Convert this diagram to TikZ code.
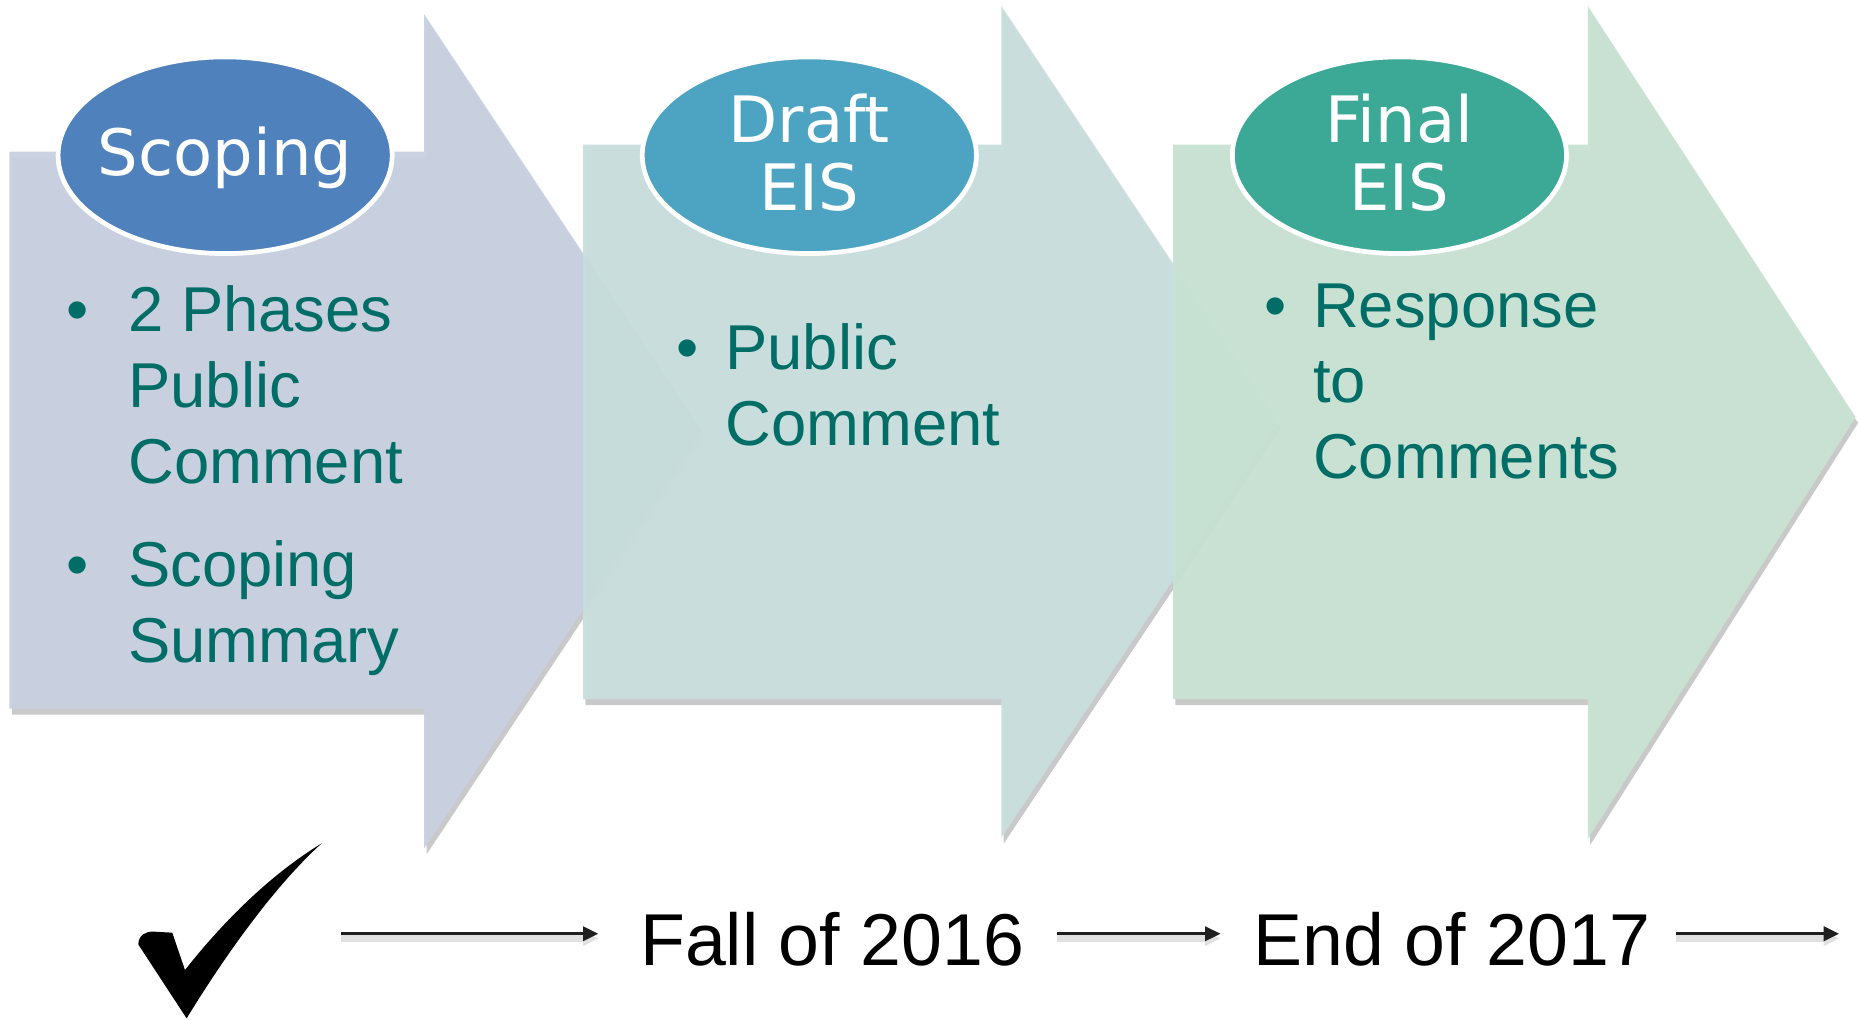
\documentclass[tikz,border=0pt]{standalone}
\usepackage{fontspec}
\setmainfont{Liberation Sans}
\newfontfamily\titlefont{DejaVu Sans}
\usetikzlibrary{arrows.meta,shadows,shapes.geometric}

\definecolor{scopegrey}{RGB}{201,209,224}
\definecolor{draftgrey}{RGB}{200,222,221}
\definecolor{finalgrey}{RGB}{200,226,212}
\definecolor{scopeblue}{RGB}{79,129,189}
\definecolor{draftblue}{RGB}{76,164,194}
\definecolor{finalteal}{RGB}{59,169,150}
\definecolor{itemteal}{RGB}{0,109,102}

\begin{document}
\begin{tikzpicture}[x=1pt,y=-1pt,
    phase/.style={fill opacity=0.97, drop shadow={shadow xshift=2pt, shadow yshift=-5pt, opacity=0.3, fill=black!70}},
    title/.style={ellipse, draw=white, line width=4pt, minimum width=282pt, minimum height=166pt, inner sep=0pt},
    titletext/.style={text=white, align=center, inner sep=0pt, font=\titlefont\fontsize{54}{57}\selectfont},
    items/.style={anchor=base west, inner sep=0pt, text=itemteal, font=\fontsize{53.5}{64}\selectfont},
    when/.style={anchor=base west, inner sep=0pt, font=\fontsize{62}{70}\selectfont},
    timeline/.style={line width=2.5pt, draw=black!88, -{Triangle[length=13pt,width=12pt]},
      preaction={draw=black!12, line width=6pt, transform canvas={yshift=-4pt}}}]
    \useasboundingbox (0,0) rectangle (1568,860);

    % the three phases
    \path[phase, fill=scopegrey] (8,128) -- (358,128) -- (358,12) -- (592,364) -- (358,716) -- (358,598) -- (8,598) -- cycle;
    \path[phase, fill=draftgrey] (492,122) -- (845,122) -- (845,5) -- (1079,356) -- (845,707) -- (845,590) -- (492,590) -- cycle;
    \path[phase, fill=finalgrey] (990,122) -- (1340,122) -- (1340,5) -- (1566,352) -- (1340,708) -- (1340,590) -- (990,590) -- cycle;

    \node[title, fill=scopeblue] (scoping) at (190,131) {};
    \node[title, fill=draftblue] (draft) at (683,131) {};
    \node[title, fill=finalteal] (final) at (1181,131) {};
    \node[titletext] at ([yshift=-2pt]scoping) {Scoping};
    \node[titletext] at ([yshift=2pt]draft) {Draft\\EIS};
    \node[titletext] at ([yshift=2pt]final) {Final\\EIS};

    \node[items] (scopeitems) at (55.6,280) {\begin{tabular}[t]{@{}l@{\hspace{33.7pt}}l@{}}
        \textbullet & 2 Phases\\ & Public\\ & Comment\\[23pt]
        \textbullet & Scoping\\ & Summary
      \end{tabular}};
    \node[items] (draftitems) at (570.6,312) {\begin{tabular}[t]{@{}l@{\hspace{22.7pt}}l@{}}
        \textbullet & Public\\ & Comment
      \end{tabular}};
    \node[items] (finalitems) at (1066.6,276) {\begin{tabular}[t]{@{}l@{\hspace{22.7pt}}l@{}}
        \textbullet & Response\\ & to\\ & Comments
      \end{tabular}};

    % timeline
    \fill (157.5,859.4) -- (116.7,797) .. controls (117,789) and (123,786) .. (129.4,786.2)
      -- (145.4,787.1) -- (156.1,818.6) .. controls (185,782) and (225,740) .. (271.5,711.7)
      .. controls (240,740) and (200,790) .. (157.5,859.4) -- cycle;
    \coordinate (start) at (288,788);
    \node[when] (fall) at (540,815) {Fall of 2016};
    \node[when] (end) at (1058,815) {End of 2017};
    \coordinate (later) at (1552,788);

    \draw[timeline, shorten >=35pt] (start) -- (start -| fall.west);
    \draw[timeline, shorten <=28pt, shorten >=28pt] (start -| fall.east) -- (start -| end.west);
    \draw[timeline, shorten <=22pt] (start -| end.east) -- (later);
  \end{tikzpicture}
\end{document}
